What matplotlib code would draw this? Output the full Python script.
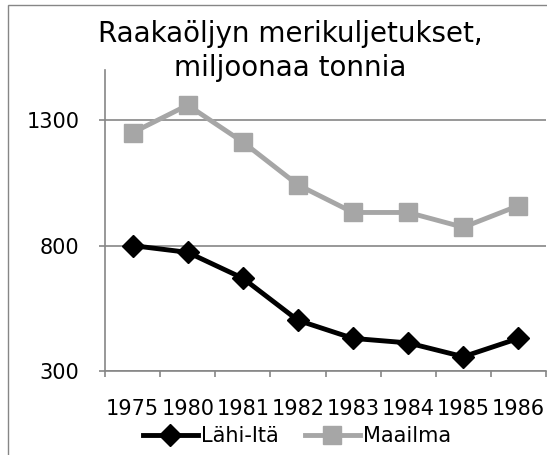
import numpy as np
import matplotlib.pyplot as plt
from matplotlib.patches import Rectangle

years = ['1975', '1980', '1981', '1982', '1983', '1984', '1985', '1986']
lahi_ita = [800, 773, 670, 502, 430, 412, 357, 430]
maailma = [1250, 1360, 1213, 1042, 932, 932, 873, 959]

fig = plt.figure(figsize=(5.47, 4.55), dpi=100)
fig.patches.append(Rectangle((8 / 547, -0.1), 1.2, 1 - 5 / 455 + 0.1, transform=fig.transFigure,
                             fill=False, edgecolor='#868686', linewidth=1))
ax = fig.add_axes([105 / 547, 1 - 371 / 455, 441 / 547, 301 / 455])

x = np.arange(len(years))
ax.plot(x, lahi_ita, color='black', linewidth=3.5, marker='D', markersize=11, label='Lähi-Itä', zorder=3)
ax.plot(x, maailma, color='#A6A6A6', linewidth=3.5, marker='s', markersize=13, label='Maailma', zorder=3)

ax.set_xlim(-0.5, 7.5)
ax.set_ylim(300, 1500)
ax.set_yticks([300, 800, 1300])
ax.grid(axis='y', color='#868686', linewidth=1.2)
ax.set_axisbelow(True)

ax.set_xticks(x)
ax.set_xticklabels(years, fontfamily='DejaVu Sans', fontsize=15)
ax.set_xticks(np.arange(-0.5, 8, 1), minor=True)
ax.tick_params(axis='x', which='major', length=0, pad=20)
ax.tick_params(axis='x', which='minor', length=4.5, color='#868686', width=1.2)
ax.tick_params(axis='y', length=4.5, color='#868686', width=1.2, pad=14)
for lab in ax.get_yticklabels():
    lab.set_fontfamily('DejaVu Sans')
    lab.set_fontsize(15)

for s in ['top', 'right']:
    ax.spines[s].set_visible(False)
for s in ['left', 'bottom']:
    ax.spines[s].set_color('#868686')
    ax.spines[s].set_linewidth(1.2)

fig.text(290 / 547, 1 - 51 / 455, 'Raakaöljyn merikuljetukset,\nmiljoonaa tonnia', ha='center', va='center',
         fontfamily='DejaVu Sans', fontsize=20, linespacing=1.3)

fig.legend(loc='center', bbox_to_anchor=(297 / 547, 1 - 436 / 455), ncol=2, frameon=False,
           prop={'family': 'DejaVu Sans', 'size': 15}, handlelength=2.65, handletextpad=0.15,
           columnspacing=1.25, borderpad=0)

fig.savefig('out.png', dpi=100)
